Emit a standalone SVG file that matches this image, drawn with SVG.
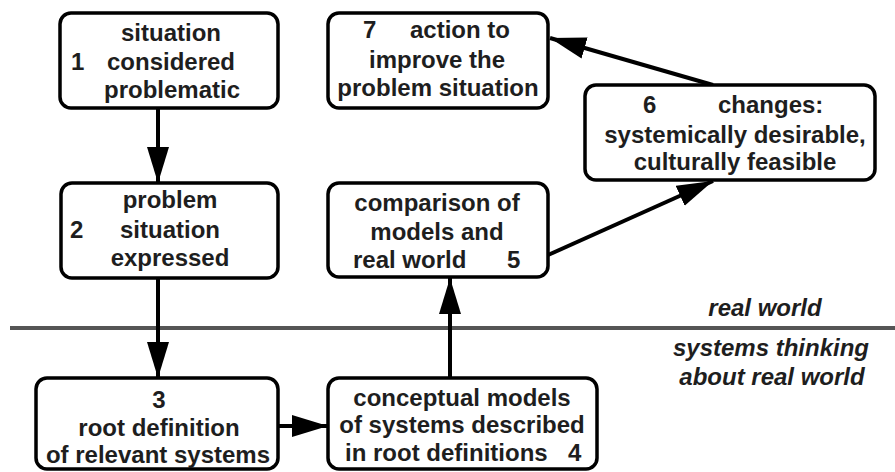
<svg xmlns="http://www.w3.org/2000/svg" width="895" height="472" viewBox="0 0 895 472">
<style>
.box{fill:#fff;stroke:#000;stroke-width:3.5}
.t{font-family:"Liberation Sans",Arial,sans-serif;font-weight:bold;font-size:24px;fill:#1e1e1e}
.c{text-anchor:middle}
.i{font-style:italic}
.ln{stroke:#000;stroke-width:4;fill:none}
</style>
<defs>
<marker id="ah" markerUnits="userSpaceOnUse" markerWidth="38" markerHeight="24" refX="36" refY="11" orient="auto">
<path d="M0,0 L36,11 L0,22 z" fill="#000"/>
</marker>
</defs>
<rect x="0" y="0" width="895" height="472" fill="#fff"/>
<line x1="10" y1="328" x2="895" y2="328" stroke="#555" stroke-width="4"/>
<g id="connectors">
<line class="ln" x1="158" y1="108" x2="158" y2="183" marker-end="url(#ah)"/>
<line class="ln" x1="158" y1="278" x2="158" y2="378" marker-end="url(#ah)"/>
<line class="ln" x1="278" y1="426" x2="328" y2="426" marker-end="url(#ah)"/>
<line class="ln" x1="450" y1="378" x2="450" y2="278" marker-end="url(#ah)"/>
<line class="ln" x1="548" y1="255" x2="713" y2="181" marker-end="url(#ah)"/>
<line class="ln" x1="713" y1="85" x2="550" y2="38" marker-end="url(#ah)"/>
</g>
<g id="n1">
<rect class="box" x="60" y="13" width="218" height="95" rx="11"/>
<text class="t c" x="171" y="41">situation</text>
<text class="t" x="71" y="70">1</text>
<text class="t c" x="171" y="70">considered</text>
<text class="t c" x="172" y="98">problematic</text>
</g>
<g id="n2">
<rect class="box" x="61" y="183" width="217" height="95" rx="11"/>
<text class="t c" x="170" y="208">problem</text>
<text class="t" x="70" y="238">2</text>
<text class="t c" x="170" y="238">situation</text>
<text class="t c" x="170" y="266">expressed</text>
</g>
<g id="n3">
<rect class="box" x="36" y="378" width="242" height="91" rx="11"/>
<text class="t c" x="159" y="408">3</text>
<text class="t c" x="159" y="436">root definition</text>
<text class="t c" x="158" y="463">of relevant systems</text>
</g>
<g id="n4">
<rect class="box" x="328" y="378" width="269" height="91" rx="11"/>
<text class="t c" x="462" y="406">conceptual models</text>
<text class="t c" x="462" y="433">of systems described</text>
<text class="t" x="345" y="461">in root definitions</text>
<text class="t" x="568" y="461">4</text>
</g>
<g id="n5">
<rect class="box" x="328" y="183" width="220" height="94" rx="11"/>
<text class="t c" x="437" y="211">comparison of</text>
<text class="t c" x="437" y="240">models and</text>
<text class="t" x="353" y="268">real world</text>
<text class="t" x="507" y="268">5</text>
</g>
<g id="n6">
<rect class="box" x="585" y="85" width="290" height="95" rx="11"/>
<text class="t" x="643" y="113">6</text>
<text class="t" x="718" y="113">changes:</text>
<text class="t c" x="735" y="143">systemically desirable,</text>
<text class="t c" x="735" y="170">culturally feasible</text>
</g>
<g id="n7">
<rect class="box" x="328" y="13" width="220" height="95" rx="11"/>
<text class="t" x="363" y="38">7</text>
<text class="t" x="410" y="38">action to</text>
<text class="t c" x="437" y="68">improve the</text>
<text class="t c" x="438" y="96">problem situation</text>
</g>
<text class="t c i" x="765" y="316">real world</text>
<text class="t c i" x="771" y="356">systems thinking</text>
<text class="t c i" x="772" y="385">about real world</text>
</svg>
